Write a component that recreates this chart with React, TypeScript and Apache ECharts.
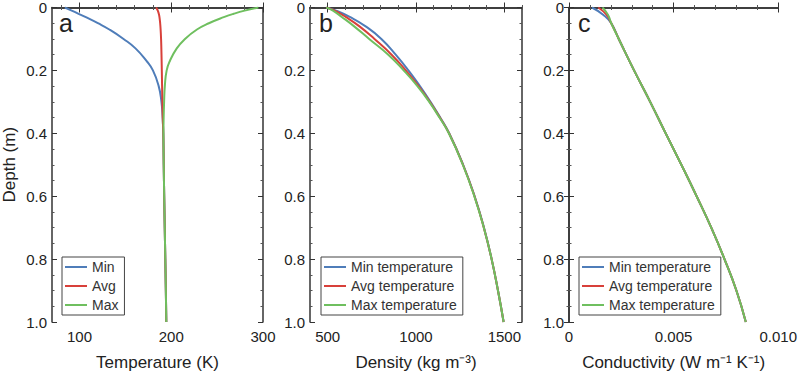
import React, { useEffect, useRef } from "react";
import * as echarts from "echarts";

// ---- Panel a: temperature (K) vs depth (m)
const depthA = [0, 0.01, 0.02, 0.03, 0.05, 0.07, 0.1, 0.13, 0.17, 0.2, 0.25, 0.3, 0.35, 0.4, 0.5, 0.6, 0.7, 0.8, 0.9, 1.0];
const tempMin = [84, 91.5, 99, 106.3, 120, 132.5, 148, 161, 173, 180, 186.3, 189.3, 190.6, 191.3, 191.8, 192.3, 192.9, 193.5, 194.1, 194.6];
const tempAvg = [183.5, 185.3, 186.4, 187.1, 187.9, 188.4, 188.9, 189.2, 189.5, 189.7, 190, 190.3, 190.7, 191.3, 191.8, 192.3, 192.9, 193.5, 194.1, 194.6];
const tempMax = [295, 280, 268, 258, 241, 228, 215, 206, 198.5, 195, 193, 192.2, 191.7, 191.5, 191.8, 192.3, 192.9, 193.5, 194.1, 194.6];

// ---- Panel b: density (kg m^-3) vs depth
const depthB = [0, 0.01, 0.03, 0.06, 0.1, 0.15, 0.2, 0.25, 0.3, 0.35, 0.4, 0.5, 0.6, 0.7, 0.8, 0.9, 1.0];
const densMin = [492, 548, 625, 715, 804, 885, 957, 1022, 1082, 1137, 1188, 1267, 1332, 1385, 1428, 1464, 1496];
const densAvg = [492, 540, 602, 680, 765, 862, 942, 1014, 1078, 1135, 1187, 1266, 1331, 1384, 1428, 1464, 1496];
const densMax = [492, 530, 580, 650, 735, 843, 930, 1008, 1075, 1133, 1186, 1265, 1330, 1384, 1428, 1464, 1496];

// ---- Panel c: conductivity (W m^-1 K^-1) vs depth
const depthC = [0, 0.023, 0.05, 0.1, 0.2, 0.3, 0.4, 0.5, 0.6, 0.7, 0.8, 0.9, 1.0];
const condMin = [0.0011, 0.00163, 0.00202, 0.00238, 0.00311, 0.00388, 0.00462, 0.00537, 0.0061, 0.0068, 0.00743, 0.008, 0.00845];
const condAvg = [0.0014, 0.00179, 0.00202, 0.00238, 0.00311, 0.00388, 0.00462, 0.00537, 0.0061, 0.0068, 0.00743, 0.008, 0.00845];
const condMax = [0.0016, 0.00186, 0.00202, 0.00238, 0.00311, 0.00388, 0.00462, 0.00537, 0.0061, 0.0068, 0.00743, 0.008, 0.00845];

// ---- tick values
const tempTicks = [100, 200, 300];
const tempMinorTicks = [80, 120, 140, 160, 180, 220, 240, 260, 280];
const densTicks = [500, 1000, 1500];
const densMinorTicks = [400, 600, 700, 800, 900, 1100, 1200, 1300, 1400, 1600];
const condTicks = [0, 0.005, 0.01];
const condMinorTicks = [0.001, 0.002, 0.003, 0.004, 0.006, 0.007, 0.008, 0.009];

const namesA = ["Min", "Avg", "Max"];
const namesBC = ["Min temperature", "Avg temperature", "Max temperature"];
const colors = ["#4f7db9", "#d8403a", "#6fbf5f"];
const panelLetters = ["a", "b", "c"];

const FONT = "Liberation Sans, Arial, sans-serif";
const TXT = "#222";

const grids = [
  { left: 50, top: 1, width: 213, height: 325 },
  { left: 310, top: 1, width: 212, height: 325 },
  { left: 569, top: 1, width: 211, height: 325 },
];

const xConf = [
  { min: 70, max: 300, ticks: tempTicks, minor: tempMinorTicks, name: "Temperature (K)", fmt: (v: number) => String(v) },
  { min: 400, max: 1600, ticks: densTicks, minor: densMinorTicks, name: "Density (kg m\u207B\u00B3)", fmt: (v: number) => String(v) },
  { min: 0, max: 0.01, ticks: condTicks, minor: condMinorTicks, name: "Conductivity (W m\u207B\u00B9 K\u207B\u00B9)", fmt: (v: number) => (v === 0 ? "0" : v.toFixed(3)) },
];

function pairs(xs: number[], ys: number[]) {
  return xs.map((x, i) => [x, ys[i]]);
}

export default function App() {
  const ref = useRef<HTMLDivElement>(null);
  useEffect(() => {
    if (!ref.current) return;
    const chart = echarts.init(ref.current, undefined, { renderer: "svg" });
    const axisLine = { show: true, lineStyle: { color: "#333", width: 1.5 } };
    const xAxes: any[] = [];
    const yAxes: any[] = [];
    const xIdx: number[] = [];
    const yIdx: number[] = [];
    grids.forEach((g, i) => {
      const c = xConf[i];
      xIdx.push(xAxes.length);
      xAxes.push({
        type: "value", gridIndex: i, position: "bottom", min: c.min, max: c.max,
        axisLine, splitLine: { show: false },
        axisTick: { show: true, inside: true, length: 5, customValues: c.ticks, lineStyle: { color: "#333" } },
        minorTick: { show: false },
        axisLabel: {
          show: true, fontSize: 15, color: TXT, fontFamily: FONT, margin: 7,
          customValues: c.ticks, formatter: (v: number) => c.fmt(v),
        },
        name: c.name, nameLocation: "middle", nameGap: 32,
        nameTextStyle: { fontSize: 17, color: TXT, fontFamily: FONT },
      });
      xAxes.push({
        type: "value", gridIndex: i, position: "bottom", min: c.min, max: c.max,
        axisLine: { show: false }, splitLine: { show: false },
        axisTick: { show: true, inside: true, length: 2.5, customValues: c.minor, lineStyle: { color: "#555" } },
        axisLabel: { show: false },
      });
      xAxes.push({
        type: "value", gridIndex: i, position: "top", min: c.min, max: c.max,
        axisLine, splitLine: { show: false },
        axisTick: { show: true, inside: true, length: 5, customValues: c.ticks, lineStyle: { color: "#333" } },
        axisLabel: { show: false },
      });
      xAxes.push({
        type: "value", gridIndex: i, position: "top", min: c.min, max: c.max,
        axisLine: { show: false }, splitLine: { show: false },
        axisTick: { show: true, inside: true, length: 2.5, customValues: c.minor, lineStyle: { color: "#555" } },
        axisLabel: { show: false },
      });

      yIdx.push(yAxes.length);
      yAxes.push({
        type: "value", gridIndex: i, position: "left", inverse: true, min: 0, max: 1, interval: 0.2,
        axisLine, splitLine: { show: false },
        axisTick: { show: true, inside: true, length: 5, lineStyle: { color: "#333" } },
        minorTick: { show: true, splitNumber: 4, length: 2.5, lineStyle: { color: "#555" } },
        axisLabel: {
          show: true, fontSize: 15, color: TXT, fontFamily: FONT, margin: 5,
          formatter: (v: number) => (v === 0 ? "0" : v.toFixed(1)),
        },
        name: i === 0 ? "Depth (m)" : "", nameLocation: "middle", nameGap: 34,
        nameTextStyle: { fontSize: 17, color: TXT, fontFamily: FONT },
      });
      yAxes.push({
        type: "value", gridIndex: i, position: "right", inverse: true, min: 0, max: 1, interval: 0.2,
        axisLine, splitLine: { show: false },
        axisTick: { show: true, inside: true, length: 5, lineStyle: { color: "#333" } },
        minorTick: { show: true, splitNumber: 4, length: 2.5, lineStyle: { color: "#555" } },
        axisLabel: { show: false },
      });
    });

    const panelData = [
      { names: namesA, xs: [tempMin, tempAvg, tempMax], ys: depthA },
      { names: namesBC, xs: [densMin, densAvg, densMax], ys: depthB },
      { names: namesBC, xs: [condMin, condAvg, condMax], ys: depthC },
    ];
    const series: any[] = [];
    panelData.forEach((p, i) => {
      p.xs.forEach((xs, k) => {
        series.push({
          type: "line", name: p.names[k], xAxisIndex: xIdx[i], yAxisIndex: yIdx[i],
          data: pairs(xs, p.ys), symbol: "none", smooth: 0.5,
          lineStyle: { color: colors[k], width: 2 }, itemStyle: { color: colors[k] },
          z: 2 + k,
        });
      });
    });

    const legendLefts = [62, 321, 579];
    const legend = panelData.map((p, i) => ({
      orient: "vertical", left: legendLefts[i], top: 257, data: p.names,
      selectedMode: false, icon: "rect", itemWidth: 22, itemHeight: 2, itemGap: 5,
      padding: [3, 6, 3, 3], borderColor: "#444", borderWidth: 1, backgroundColor: "#fff",
      textStyle: { fontSize: 14, color: "#333", fontFamily: FONT, lineHeight: 14 },
    }));

    const graphic = grids.map((g, i) => ({
      type: "text", left: g.left + 9, top: 10, z: 10,
      style: { text: panelLetters[i], fontSize: 25, fill: TXT, fontFamily: FONT },
    }));

    chart.setOption({
      animation: false,
      backgroundColor: "#fff",
      grid: grids.map((g) => ({ ...g, containLabel: false })),
      xAxis: xAxes,
      yAxis: yAxes,
      series,
      legend,
      graphic,
    });
    return () => chart.dispose();
  }, []);
  return (
    <div
      ref={ref}
      style={{ position: "absolute", left: 0, top: 0, width: 800, height: 376 }}
    />
  );
}
